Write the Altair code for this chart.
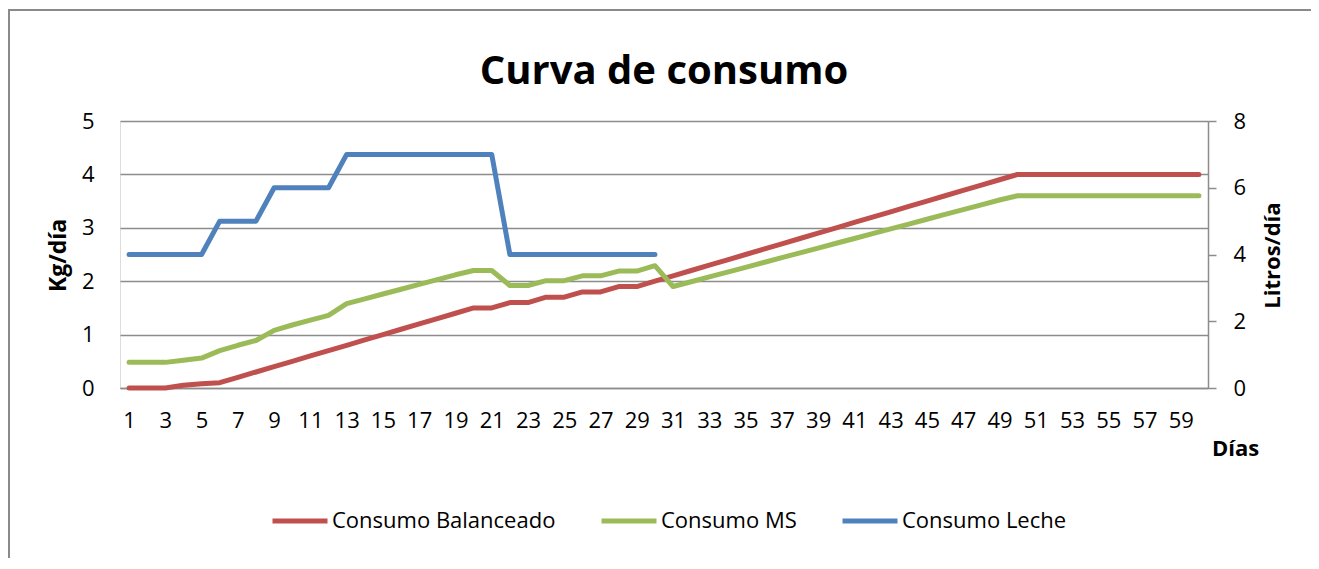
import altair as alt
import pandas as pd

dias = list(range(1, 61))

balanceado = [0, 0, 0, 0.05, 0.08, 0.1, 0.2, 0.3, 0.4, 0.5,
              0.6, 0.7, 0.8, 0.9, 1.0, 1.1, 1.2, 1.3, 1.4, 1.5,
              1.5, 1.6, 1.6, 1.7, 1.7, 1.8, 1.8, 1.9, 1.9, 2.0,
              2.1, 2.2, 2.3, 2.4, 2.5, 2.6, 2.7, 2.8, 2.9, 3.0,
              3.1, 3.2, 3.3, 3.4, 3.5, 3.6, 3.7, 3.8, 3.9, 4.0,
              4.0, 4.0, 4.0, 4.0, 4.0, 4.0, 4.0, 4.0, 4.0, 4.0]

ms = [0.48, 0.48, 0.48, 0.52, 0.56, 0.70, 0.80, 0.89, 1.08, 1.18,
      1.27, 1.36, 1.58, 1.67, 1.76, 1.85, 1.94, 2.03, 2.12, 2.20,
      2.20, 1.92, 1.92, 2.01, 2.01, 2.10, 2.10, 2.19, 2.19, 2.29,
      1.90, 1.99, 2.08, 2.17, 2.26, 2.35, 2.44, 2.53, 2.62, 2.71,
      2.80, 2.89, 2.98, 3.07, 3.16, 3.25, 3.34, 3.43, 3.52, 3.60,
      3.60, 3.60, 3.60, 3.60, 3.60, 3.60, 3.60, 3.60, 3.60, 3.60]

leche = [4, 4, 4, 4, 4, 5, 5, 5, 6, 6,
         6, 6, 7, 7, 7, 7, 7, 7, 7, 7,
         7, 4, 4, 4, 4, 4, 4, 4, 4, 4] + [None] * 30

series = ["Consumo Balanceado", "Consumo MS", "Consumo Leche"]
colores = ["#C0504D", "#9BBB59", "#4F81BD"]
x_labels = [d for d in dias if d % 2 == 1]

FONT = "Open Sans"
GRID = "#8C8C8C"
FRAME = "#8A8A8A"

left_df = pd.DataFrame({
    "dia": dias * 2,
    "valor": balanceado + ms,
    "serie": [series[0]] * 60 + [series[1]] * 60,
})
right_df = pd.DataFrame({"dia": dias, "valor": leche, "serie": [series[2]] * 60})

x_enc = alt.X(
    "dia:O",
    scale=alt.Scale(type="point", padding=0.5),
    sort=dias,
    axis=alt.Axis(
        values=x_labels, labelAngle=0, ticks=False, domainColor=GRID, domainWidth=1.5,
        labelPadding=22, labelFontSize=22, labelFont=FONT, labelColor="black",
        title="Días", titleFont=FONT, titleFontSize=22, titleFontWeight="bold",
        titleX=1115, titleY=60, titleAlign="center", titleBaseline="middle",
        grid=False,
    ),
)

color_enc = alt.Color(
    "serie:N",
    scale=alt.Scale(domain=series, range=colores),
    sort=series,
    legend=alt.Legend(
        title=None, orient="none", direction="horizontal", legendX=150, legendY=370,
        symbolType="stroke", symbolStrokeWidth=5, symbolSize=3025,
        labelFont=FONT, labelFontSize=22, labelColor="black", labelOffset=2,
        labelLimit=0, columnPadding=35, padding=0,
    ),
)

line_style = dict(strokeWidth=5, strokeCap="round", strokeJoin="round")

left = alt.Chart(left_df).mark_line(**line_style).encode(
    x=x_enc,
    y=alt.Y(
        "valor:Q",
        scale=alt.Scale(domain=[0, 5], nice=False),
        axis=alt.Axis(
            values=[0, 1, 2, 3, 4, 5], domain=False, ticks=False, grid=True,
            gridColor=GRID, gridWidth=1.5, labelPadding=26,
            labelFontSize=22, labelFont=FONT, labelColor="black",
            title="Kg/día", titleFont=FONT, titleFontSize=23, titleFontWeight="bold",
            titleX=-62, titleY=134, titleAngle=270, titleAlign="center", titleBaseline="middle",
        ),
    ),
    color=color_enc,
)

right = alt.Chart(right_df).mark_line(**line_style).encode(
    x=x_enc,
    y=alt.Y(
        "valor:Q",
        scale=alt.Scale(domain=[0, 8], nice=False),
        axis=alt.Axis(
            orient="right", values=[0, 2, 4, 6, 8], grid=False,
            domainColor=GRID, domainWidth=1.5, ticks=True, tickColor=GRID, tickWidth=1.5, tickSize=8,
            labelPadding=17, labelFontSize=22, labelFont=FONT, labelColor="black",
            title="Litros/día", titleFont=FONT, titleFontSize=22, titleFontWeight="bold",
            titleX=64, titleY=134, titleAngle=270, titleAlign="center", titleBaseline="middle",
        ),
    ),
    color=color_enc,
)

# outer chart frame (top and left edges visible in the reference)
frame_top = alt.Chart(pd.DataFrame({"k": [0]})).mark_rule(color=FRAME, strokeWidth=2).encode(
    x=alt.value(-112), x2=alt.value(1191), y=alt.value(-111), y2=alt.value(-111)
)
frame_left = alt.Chart(pd.DataFrame({"k": [0]})).mark_rule(color=FRAME, strokeWidth=2).encode(
    x=alt.value(-111), x2=alt.value(-111), y=alt.value(-111), y2=alt.value(460)
)

chart = alt.layer(left, right, frame_top, frame_left).resolve_scale(y="independent").properties(
    width=1088,
    height=267,
    title=alt.Title("Curva de consumo", font=FONT, fontSize=40, fontWeight="bold",
                    color="black", anchor="middle", frame="group",
                    baseline="alphabetic", offset=-115),
    autosize=alt.AutoSizeParams(type="none"),
    padding={"left": 112, "top": 113, "right": 103, "bottom": 170},
).configure_view(stroke=None).configure(background="white")

chart.save("out.html", embed_options={"renderer": "svg", "actions": False})
